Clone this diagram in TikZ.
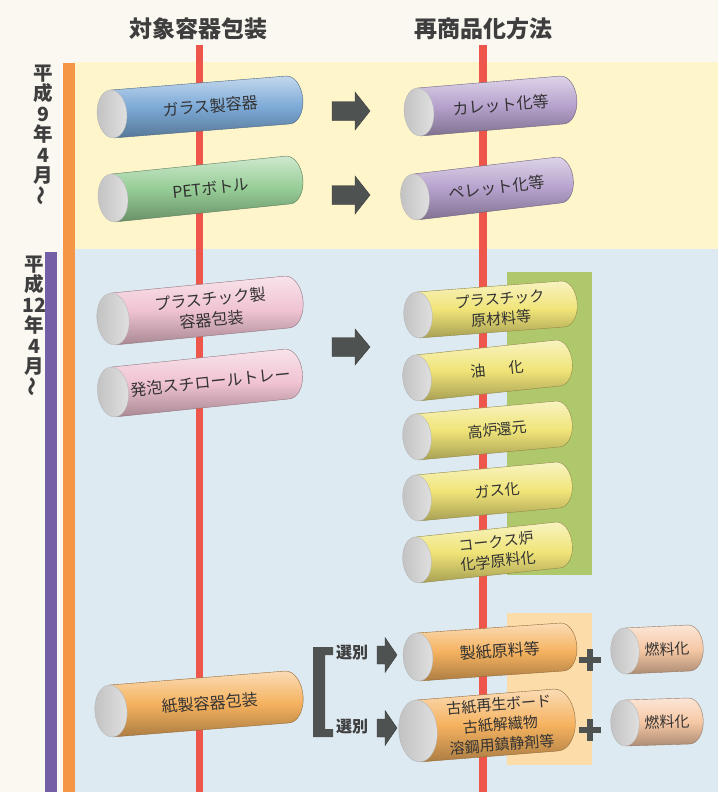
\documentclass[tikz,border=0pt]{standalone}
\usepackage{fontspec}
\setmainfont{Noto Sans CJK JP}
\usepackage{graphicx}
\definecolor{bgoff}{RGB}{250,248,241}
\definecolor{paneyellow}{RGB}{254,245,202}
\definecolor{paneblue}{RGB}{222,234,242}
\definecolor{rectgreen}{RGB}{176,200,108}
\definecolor{rectpeach}{RGB}{252,220,168}
\definecolor{redline}{RGB}{238,85,75}
\definecolor{barorange}{RGB}{245,150,70}
\definecolor{barpurple}{RGB}{115,95,165}
\definecolor{arrowc}{RGB}{78,82,80}
\definecolor{cblue}{RGB}{125,170,215}
\definecolor{cgreen}{RGB}{150,205,150}
\definecolor{cpurple}{RGB}{182,162,205}
\definecolor{cpink}{RGB}{240,195,210}
\definecolor{cyellow}{RGB}{240,228,120}
\definecolor{corange}{RGB}{245,178,95}
\definecolor{cpeach}{RGB}{246,200,165}
\definecolor{headc}{RGB}{62,62,62}
% #1 text opts, #2 name, #3 x1, #4 y1, #5 x2, #6 y2, #7 radius, #8 colour, #9 text
\newcommand\cylinder[9][]{%
 \pgfmathsetmacro\cdx{#5-#3}%
 \pgfmathsetmacro\cdy{#4-#6}%
 \pgfmathsetmacro\cL{veclen(\cdx,\cdy)}%
 \pgfmathsetmacro\ca{atan2(\cdy,\cdx)}%
 \pgfmathsetmacro\crx{0.62*#7}%
 \pgfmathsetmacro\ctx{\cL/2+0.7*\crx}%
 \begin{scope}[shift={(#3,-#4)},rotate=\ca]
  \shade[top color=#8!45!white, bottom color=#8!70!black, middle color=#8, draw=#8!60!black, line width=0.4pt]
    (0,-#7) -- (\cL,-#7) arc[start angle=-90,end angle=90,x radius=\crx,y radius=#7] -- (0,#7) -- cycle;
  \shade[left color=black!24, right color=black!12, draw=black!30, line width=0.3pt]
    (0,0) ellipse[x radius=\crx, y radius=#7];
  \node[cyltext, rotate=\ca, #1] (#2) at (\ctx,0) {#9};
 \end{scope}}
% block arrow: #1 x left, #2 y centre, #3 length, #4 head length, #5 head height, #6 shaft height
\newcommand\barrow[6]{%
 \fill[arrowc, draw=arrowc!70!black, line width=0.4pt]
  (#1,{-#2+#6/2}) -- ({#1+#3-#4},{-#2+#6/2}) -- ({#1+#3-#4},{-#2+#5/2}) -- ({#1+#3},-#2)
  -- ({#1+#3-#4},{-#2-#5/2}) -- ({#1+#3-#4},{-#2-#6/2}) -- (#1,{-#2-#6/2}) -- cycle;}
\begin{document}
\begin{tikzpicture}[x=1pt,y=1pt,
  cyltext/.style={font=\fontsize{16}{21}\selectfont, text=black!80, align=center, inner sep=0pt},
  headtext/.style={font=\bfseries\fontsize{23}{25}\selectfont, text=headc, inner sep=0pt},
  sidetext/.style={font=\bfseries\fontsize{19.5}{20.5}\selectfont, text=headc, align=center, inner sep=0pt},
  seltext/.style={font=\bfseries\fontsize{16}{18}\selectfont, text=headc, inner sep=0pt}]
\useasboundingbox (0,0) rectangle (718,-792);
\fill[bgoff] (0,0) rectangle (718,-792);
\fill[paneyellow] (75,-62) rectangle (718,-249);
\fill[paneblue] (75,-249) rectangle (718,-792);
\fill[rectgreen] (507,-272) rectangle (592,-575);
\fill[rectpeach] (507,-613) rectangle (592,-765);
\fill[redline] (196,-45) rectangle (203,-792);
\fill[redline] (479,-45) rectangle (487,-792);
\fill[barorange] (63,-63) rectangle (75,-792);
\fill[barpurple] (45,-252) rectangle (57,-792);
% headers
\node[headtext] (h1) at (198,-29) {対象容器包装};
\node[headtext] (h2) at (483,-29) {再商品化方法};
% side labels
\node[sidetext] (s1) at (43,-135) {平\\成\\9\\年\\4\\月\\\rotatebox{90}{～}};
\node[sidetext] (s2) at (34,-326) {平\\成\\12\\年\\4\\月\\\rotatebox{90}{～}};
% left column cylinders
\cylinder{c1}{112}{114}{288}{100}{24}{cblue}{ガラス製容器}
\cylinder{c2}{113}{198}{288}{180}{24}{cgreen}{PETボトル}
\cylinder{c5}{113}{319}{287}{302}{26}{cpink}{プラスチック製\\容器包装}
\cylinder{c6}{113}{392}{287}{374}{25}{cpink}{発泡スチロールトレー}
\cylinder{p1}{111}{711}{287}{697}{26}{corange}{紙製容器包装}
% right column cylinders
\cylinder{c3}{419}{112}{562}{100}{24}{cpurple}{カレット化等}
\cylinder{c4}{415}{197}{559}{180}{23}{cpurple}{ペレット化等}
\cylinder[font=\fontsize{15}{19.5}\selectfont]{y1}{418}{315}{563}{304}{23}{cyellow}{プラスチック\\原材料等}
\cylinder[font=\fontsize{15}{19.5}\selectfont]{y2}{417}{378}{558}{363}{23}{cyellow}{油\hspace{1.5em}化}
\cylinder[font=\fontsize{15}{19.5}\selectfont]{y3}{417}{437}{558}{424}{23}{cyellow}{高炉還元}
\cylinder[font=\fontsize{15}{19.5}\selectfont]{y4}{417}{498}{558}{485}{23}{cyellow}{ガス化}
\cylinder[font=\fontsize{15}{19.5}\selectfont]{y5}{417}{560}{558}{545}{23}{cyellow}{コークス炉\\化学原料化}
\cylinder{o1}{418}{657}{562}{647}{24}{corange}{製紙原料等}
\cylinder[font=\fontsize{15}{20}\selectfont]{o2}{418}{731}{556}{720}{31}{corange}{古紙再生ボード\\古紙解繊物\\溶鋼用鎮静剤等}
\cylinder[font=\fontsize{15}{19}\selectfont]{f1}{625}{651}{689}{648}{23}{cpeach}{燃料化}
\cylinder[font=\fontsize{15}{19}\selectfont]{f2}{625}{723}{689}{721}{23}{cpeach}{燃料化}
% block arrows
\barrow{332}{111}{38}{15}{38}{19}
\barrow{332}{195}{38}{15}{38}{19}
\barrow{332}{347}{38}{15}{36}{19}
\barrow{377}{655}{20}{12}{35}{18}
\barrow{377}{728}{20}{12}{35}{18}
% bracket
\fill[arrowc] (313,-647) -- (333,-647) -- (333,-655) -- (325,-655) -- (325,-729) -- (333,-729) -- (333,-737) -- (313,-737) -- cycle;
\node[seltext] (sel1) at (352,-653) {選別};
\node[seltext] (sel2) at (352,-727) {選別};
% plus signs
\fill[arrowc] (579,-657) rectangle (601,-663);
\fill[arrowc] (587,-649) rectangle (593,-671);
\fill[arrowc] (579,-727) rectangle (601,-733);
\fill[arrowc] (587,-719) rectangle (593,-741);
\end{tikzpicture}
\end{document}
